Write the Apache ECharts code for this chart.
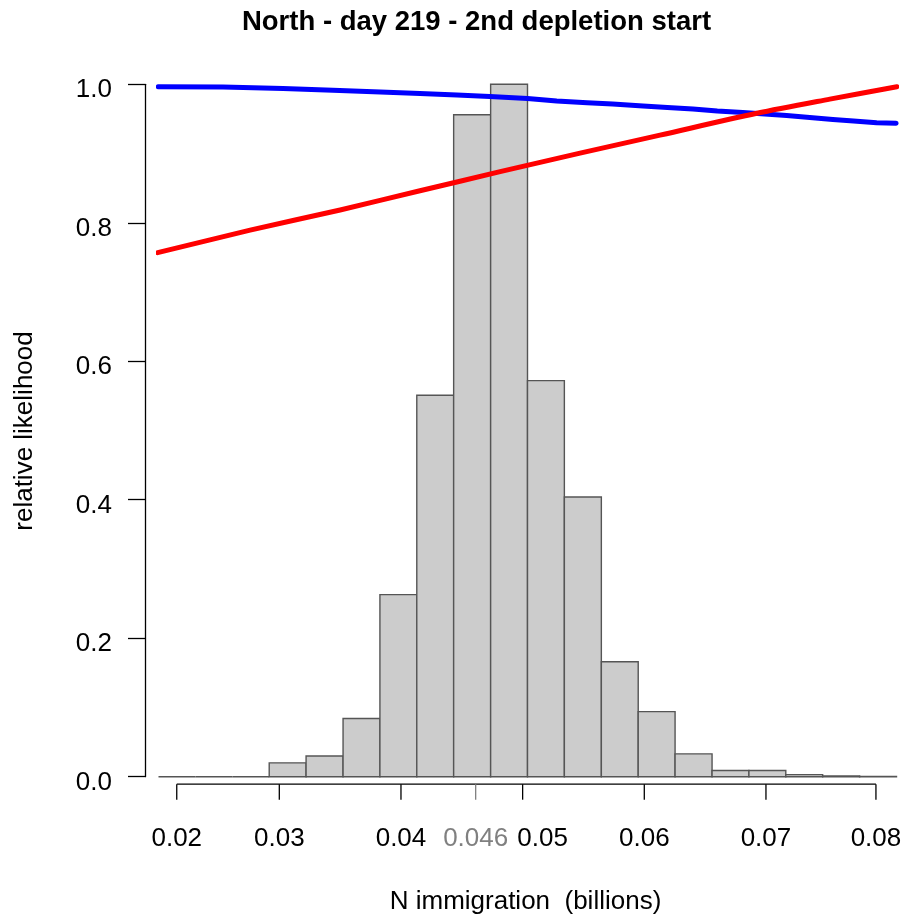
<!DOCTYPE html>
<html>
<head>
<meta charset="utf-8">
<script src="https://cdn.jsdelivr.net/npm/echarts@6/dist/echarts.min.js"></script>
<style>
  html, body { margin: 0; padding: 0; background: #ffffff; }
  #chart { width: 904px; height: 917px; }
</style>
</head>
<body>
<div id="chart"></div>
<script>
// Histogram bin edges (billions) and relative likelihood per bin
const binEdges = [0.02007, 0.02310, 0.02614, 0.02917, 0.03220, 0.03524, 0.03827,
  0.04130, 0.04433, 0.04737, 0.05040, 0.05343, 0.05647, 0.05950, 0.06253,
  0.06557, 0.06860, 0.07163, 0.07466, 0.07770, 0.08073];
const binHeights = [0, 0, 0, 0.020, 0.030, 0.084, 0.263, 0.551, 0.956, 1.000,
  0.572, 0.404, 0.166, 0.094, 0.033, 0.009, 0.009, 0.003, 0.001, 0.0005];

// Blue curve
const blueX = [0.02005, 0.02537, 0.0303, 0.0344, 0.0383, 0.04156, 0.0446, 0.0473,
  0.0504, 0.0528, 0.0553, 0.0574, 0.0599, 0.0619, 0.0640, 0.0660, 0.0681,
  0.0717, 0.0736, 0.0755, 0.0772, 0.0791, 0.0807];
const blueY = [0.9965, 0.9961, 0.9940, 0.9913, 0.9890, 0.9867, 0.9845, 0.9824,
  0.9795, 0.9759, 0.9733, 0.9715, 0.9687, 0.9665, 0.9643, 0.9614, 0.9593,
  0.9550, 0.9520, 0.9491, 0.9470, 0.9444, 0.9437];

// Red curve
const redX = [0.0200, 0.0276, 0.0350, 0.04156, 0.04815, 0.05472, 0.06129, 0.06925, 0.07525, 0.08076];
const redY = [0.7568, 0.7893, 0.8185, 0.8462, 0.8738, 0.9006, 0.9266, 0.9581, 0.9786, 0.9965];

// x-axis tick positions and their printed labels
const xTickValues = [0.02157, 0.03, 0.04, 0.04614, 0.05, 0.06, 0.07, 0.07904];
const xTickLabels = ['0.02', '0.03', '0.04', '0.046', '0.05', '0.06', '0.07', '0.08'];
const xTickHighlight = [false, false, false, true, false, false, false, false];

// y-axis ticks
const yTickValues = [0, 0.2, 0.4, 0.6, 0.8, 1.0];
const yTickLabels = ['0.0', '0.2', '0.4', '0.6', '0.8', '1.0'];

const titleText = 'North - day 219 - 2nd depletion start';
const xTitle = 'N immigration  (billions)';
const yTitle = 'relative likelihood';

const FONT = '"Liberation Sans", Arial, Helvetica, sans-serif';
// horizontal nudge (px) so the 0.05 label clears the 0.046 label
const xLabelNudge = [0, 0, 0, 0, 20, 0, 0, 0];

const bars = binHeights.map((h, i) => [binEdges[i], binEdges[i + 1], h]);
const blueData = blueX.map((x, i) => [x, blueY[i]]);
const redData = redX.map((x, i) => [x, redY[i]]);
const xTickData = xTickValues.map((v, i) => [v, i]);
const yTickData = yTickValues.map((v, i) => [binEdges[0], v, i]);

const chart = echarts.init(document.getElementById('chart'), null, { renderer: 'canvas' });

chart.setOption({
  animation: false,
  backgroundColor: '#ffffff',
  grid: { left: 158.5, right: 7.5, top: 84.3, bottom: 140.3, containLabel: false },
  xAxis: {
    type: 'value', min: binEdges[0], max: binEdges[binEdges.length - 1], show: false
  },
  yAxis: {
    type: 'value', min: 0, max: 1, interval: 0.2, offset: 13.5,
    axisLine: { show: true, lineStyle: { color: '#000', width: 1.3 } },
    axisTick: { show: true, inside: false, length: 17, lineStyle: { color: '#000', width: 1.3 } },
    axisLabel: { show: false },
    splitLine: { show: false }
  },
  graphic: [
    { type: 'text', x: 476.5, y: 22, style: { text: titleText, fontSize: 27.5, fontWeight: 'bold', fontFamily: FONT, fill: '#000', align: 'center', verticalAlign: 'middle' } },
    { type: 'text', x: 525.5, y: 902, style: { text: xTitle, fontSize: 26, fontFamily: FONT, fill: '#000', align: 'center', verticalAlign: 'middle' } },
    { type: 'text', x: 25, y: 431, rotation: Math.PI / 2, style: { text: yTitle, fontSize: 26, fontFamily: FONT, fill: '#000', align: 'center', verticalAlign: 'middle' } }
  ],
  series: [
    {
      type: 'custom', name: 'histogram', clip: false, z: 2,
      data: bars,
      encode: { x: [0, 1], y: 2 },
      renderItem: (params, api) => {
        const p0 = api.coord([api.value(0), api.value(2)]);
        const p1 = api.coord([api.value(1), 0]);
        return {
          type: 'rect',
          shape: { x: p0[0], y: p0[1], width: p1[0] - p0[0], height: p1[1] - p0[1] },
          style: { fill: '#cccccc', stroke: '#555555', lineWidth: 1.4 }
        };
      }
    },
    {
      type: 'line', name: 'blue', data: blueData, showSymbol: false, z: 3,
      lineStyle: { color: '#0000ff', width: 5, cap: 'round', join: 'round' }
    },
    {
      type: 'line', name: 'red', data: redData, showSymbol: false, smooth: 0.3, z: 4,
      lineStyle: { color: '#ff0000', width: 5, cap: 'round', join: 'round' }
    },
    {
      // y axis tick labels, right-aligned left of the tick marks
      type: 'custom', name: 'yAxisLabels', clip: false, silent: true,
      data: yTickData,
      renderItem: (params, api) => {
        const i = params.dataIndex;
        const p = api.coord([api.value(0), api.value(1)]);
        return {
          type: 'text',
          style: { text: yTickLabels[i], x: p[0] - 46.5, y: p[1] + 6, align: 'right', verticalAlign: 'middle', fontSize: 26, fontFamily: FONT, fill: '#000' }
        };
      }
    },
    {
      // x axis baseline spanning first to last tick
      type: 'custom', name: 'xAxisLine', clip: false, silent: true,
      data: [[xTickValues[0], xTickValues[xTickValues.length - 1]]],
      renderItem: (params, api) => {
        const a = api.coord([api.value(0), 0]);
        const b = api.coord([api.value(1), 0]);
        const y = a[1] + 7.5;
        return { type: 'line', shape: { x1: a[0], y1: y, x2: b[0], y2: y }, style: { stroke: '#000', lineWidth: 1.3 } };
      }
    },
    {
      // x axis ticks and labels
      type: 'custom', name: 'xAxisTicks', clip: false, silent: true,
      data: xTickData,
      renderItem: (params, api) => {
        const i = params.dataIndex;
        const p = api.coord([api.value(0), 0]);
        const y0 = p[1] + 7.5;
        const col = xTickHighlight[i] ? '#808080' : '#000000';
        return {
          type: 'group',
          children: [
            { type: 'line', shape: { x1: p[0], y1: y0, x2: p[0], y2: y0 + 15.5 }, style: { stroke: col, lineWidth: 1.3 } },
            { type: 'text', style: { text: xTickLabels[i], x: p[0] + xLabelNudge[i], y: y0 + 55, align: 'center', verticalAlign: 'middle', fontSize: 26, fontFamily: FONT, fill: col } }
          ]
        };
      }
    }
  ]
});
</script>
</body>
</html>
